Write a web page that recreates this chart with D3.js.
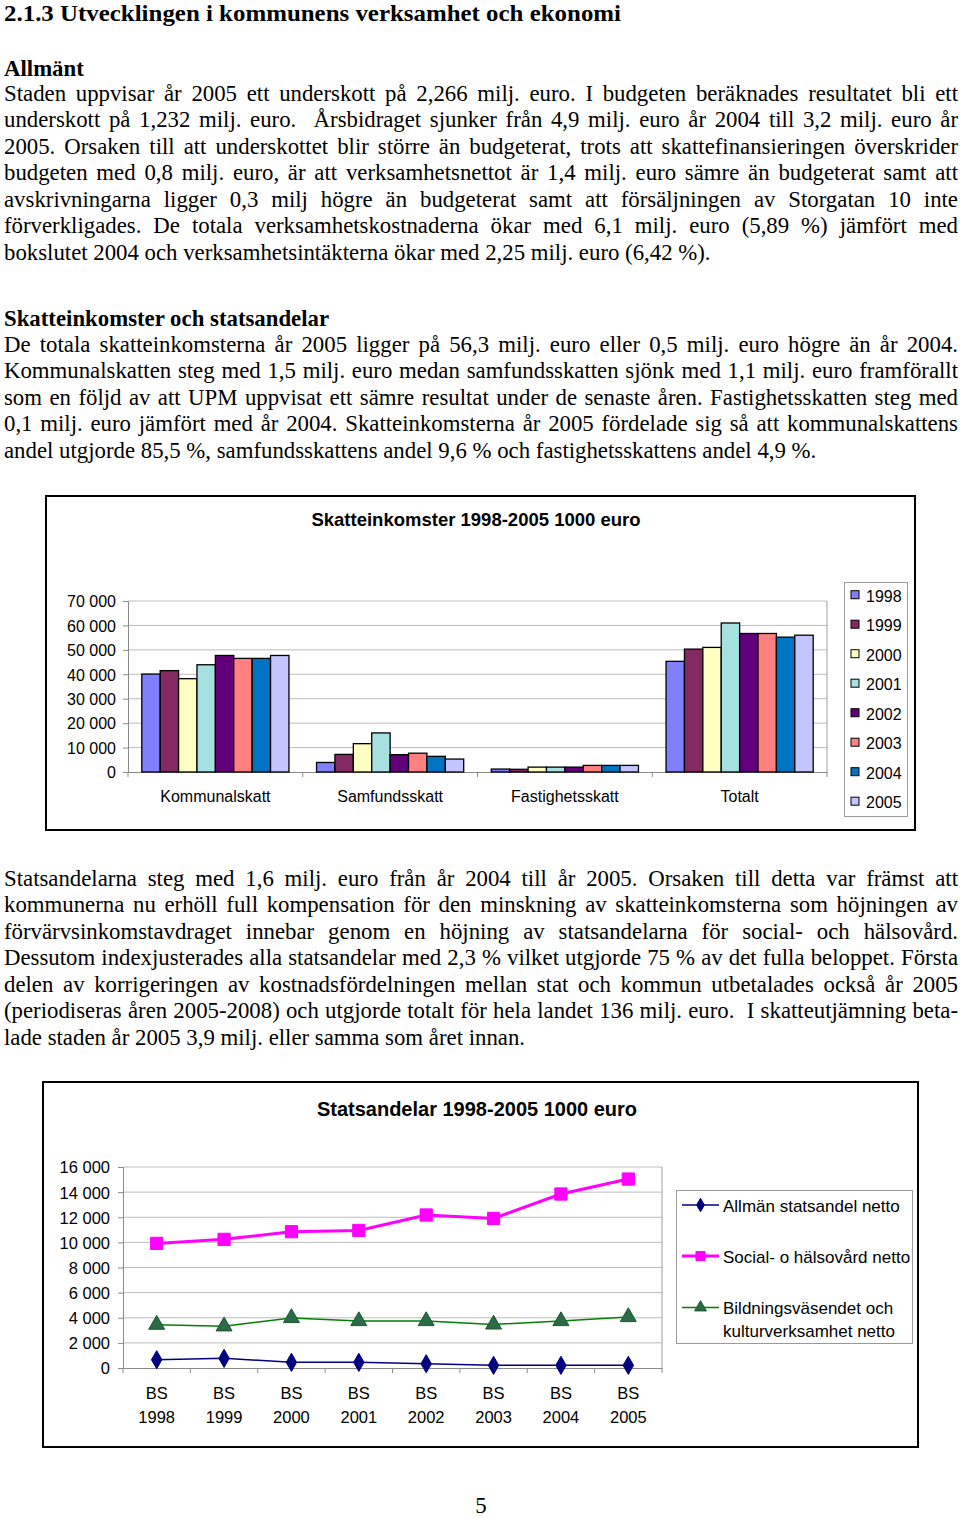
<!DOCTYPE html>
<html>
<head>
<meta charset="utf-8">
<script src="https://cdn.jsdelivr.net/npm/d3@7"></script>
<style>
html,body{margin:0;padding:0;background:#fff;}
svg{display:block;}
</style>
</head>
<body>
<svg id="page" width="960" height="1518"></svg>
<script>
// ---------- DATA ----------
const years = ['1998','1999','2000','2001','2002','2003','2004','2005'];
const taxCategories = ['Kommunalskatt','Samfundsskatt','Fastighetsskatt','Totalt'];
const kommunalskatt   = [40100,41500,38200,43900,47700,46500,46500,47700];
const samfundsskatt   = [3900,7200,11600,16000,7100,7700,6400,5300];
const fastighetsskatt = [1200,1100,2000,2000,2000,2700,2700,2700];
const totalt          = [45300,50300,51000,61000,56700,56700,55200,56000];
const taxTicks = [0,10000,20000,30000,40000,50000,60000,70000];
const taxTitle = 'Skatteinkomster 1998-2005 1000 euro';

const bsCategories = ['1998','1999','2000','2001','2002','2003','2004','2005'];
const seriesNames = ['Allmän statsandel netto','Social- o hälsovård netto','Bildningsväsendet och|kulturverksamhet netto'];
const allmanNetto   = [660,770,450,450,340,210,210,210];
const socialNetto   = [9920,10240,10850,10950,12180,11910,13850,15040];
const bildningNetto = [3450,3320,3980,3740,3740,3470,3740,4060];
const stateTicks = [0,2000,4000,6000,8000,10000,12000,14000,16000];
const stateTitle = 'Statsandelar 1998-2005 1000 euro';

const heading = '2.1.3 Utvecklingen i kommunens verksamhet och ekonomi';
const sub1 = 'Allmänt';
const para1 = [
 'Staden uppvisar år 2005 ett underskott på 2,266 milj. euro. I budgeten beräknades resultatet bli ett',
 'underskott på 1,232 milj. euro.  Årsbidraget sjunker från 4,9 milj. euro år 2004 till 3,2 milj. euro år',
 '2005. Orsaken till att underskottet blir större än budgeterat, trots att skattefinansieringen överskrider',
 'budgeten med 0,8 milj. euro, är att verksamhetsnettot är 1,4 milj. euro sämre än budgeterat samt att',
 'avskrivningarna ligger 0,3 milj högre än budgeterat samt att försäljningen av Storgatan 10 inte',
 'förverkligades. De totala verksamhetskostnaderna ökar med 6,1 milj. euro (5,89 %) jämfört med',
 'bokslutet 2004 och verksamhetsintäkterna ökar med 2,25 milj. euro (6,42 %).'
];
const sub2 = 'Skatteinkomster och statsandelar';
const para2 = [
 'De totala skatteinkomsterna år 2005 ligger på 56,3 milj. euro eller 0,5 milj. euro högre än år 2004.',
 'Kommunalskatten steg med 1,5 milj. euro medan samfundsskatten sjönk med 1,1 milj. euro framförallt',
 'som en följd av att UPM uppvisat ett sämre resultat under de senaste åren. Fastighetsskatten steg med',
 '0,1 milj. euro jämfört med år 2004. Skatteinkomsterna år 2005 fördelade sig så att kommunalskattens',
 'andel utgjorde 85,5 %, samfundsskattens andel 9,6 % och fastighetsskattens andel 4,9 %.'
];
const para3 = [
 'Statsandelarna steg med 1,6 milj. euro från år 2004 till år 2005. Orsaken till detta var främst att',
 'kommunerna nu erhöll full kompensation för den minskning av skatteinkomsterna som höjningen av',
 'förvärvsinkomstavdraget innebar genom en höjning av statsandelarna för social- och hälsovård.',
 'Dessutom indexjusterades alla statsandelar med 2,3 % vilket utgjorde 75 % av det fulla beloppet. Första',
 'delen av korrigeringen av kostnadsfördelningen mellan stat och kommun utbetalades också år 2005',
 '(periodiseras åren 2005-2008) och utgjorde totalt för hela landet 136 milj. euro.  I skatteutjämning beta-',
 'lade staden år 2005 3,9 milj. eller samma som året innan.'
];
const pageNumber = '5';

// ---------- SETUP ----------
const svg = d3.select('#page');
const serif = '"Liberation Serif","Times New Roman",serif';
const sans = '"Liberation Sans",Arial,sans-serif';
const loc = d3.formatLocale({decimal:',', thousands:' ', grouping:[3], currency:['','']});
const fmt = loc.format(',');

// ---------- BODY TEXT ----------
const FS = 22.8, LH = 26.5, LEFT = 4, WIDTH = 954;
function textLine(str, x, y, opts = {}) {
  const t = svg.append('text')
    .attr('x', x).attr('y', y)
    .attr('font-family', serif)
    .attr('font-size', opts.size || FS)
    .attr('font-weight', opts.bold ? 'bold' : 'normal')
    .attr('fill', '#000')
    .attr('text-anchor', opts.anchor || 'start')
    .style('white-space', 'pre')
    .text(str);
  if (opts.justify) {
    const nat = t.node().getComputedTextLength();
    const spaces = (str.match(/ /g) || []).length;
    if (spaces > 0) t.style('word-spacing', ((WIDTH - nat) / spaces) + 'px');
  }
  if (opts.fitWidth) {
    t.attr('textLength', opts.fitWidth).attr('lengthAdjust', 'spacingAndGlyphs');
  }
  return t;
}
function paragraph(lines, y0) {
  lines.forEach((l, i) => textLine(l, LEFT, y0 + i * LH, {justify: i < lines.length - 1}));
}
textLine(heading, LEFT, 20.5, {bold: true, size: 22.8, fitWidth: 617});
textLine(sub1, LEFT, 75.5, {bold: true});
paragraph(para1, 100.5);
textLine(sub2, LEFT, 325.5, {bold: true});
paragraph(para2, 351.5);
paragraph(para3, 885.5);
textLine(pageNumber, 481, 1512.5, {anchor: 'middle'});

// ---------- CHART 1: grouped bars ----------
(function(){
  const colors = ['#8080ff','#842a62','#ffffc4','#a6e0e0','#62007c','#ff8080','#0074c2','#c4c4ff'];
  const seriesByCat = [kommunalskatt, samfundsskatt, fastighetsskatt, totalt];
  const g = svg.append('g');
  g.append('rect').attr('x', 46).attr('y', 496).attr('width', 869).attr('height', 334)
    .attr('fill', '#fff').attr('stroke', '#000').attr('stroke-width', 2);
  g.append('text').attr('x', 476).attr('y', 525.5).attr('text-anchor', 'middle')
    .attr('font-family', sans).attr('font-weight', 'bold').attr('font-size', 18.5).text(taxTitle);

  const x0 = d3.scaleBand().domain(taxCategories).range([128, 827]);
  const y = d3.scaleLinear().domain([0, 70000]).range([772, 601]);
  const bw = x0.bandwidth() / 9.5;
  const x1 = d3.scaleBand().domain(years)
    .range([(x0.bandwidth() - 8 * bw) / 2, (x0.bandwidth() + 8 * bw) / 2]);

  // gridlines
  g.append('g').selectAll('line').data(taxTicks.filter(d => d > 0)).join('line')
    .attr('x1', 128).attr('x2', 827).attr('y1', d => y(d)).attr('y2', d => y(d))
    .attr('stroke', '#bdbdbd').attr('stroke-width', 1);
  // right border
  g.append('line').attr('x1', 827).attr('x2', 827).attr('y1', y(70000)).attr('y2', y(0))
    .attr('stroke', '#a0a0a0');

  // y axis
  const yAxis = d3.axisLeft(y).tickValues(taxTicks).tickFormat(fmt).tickSize(5).tickPadding(7);
  const ya = g.append('g').attr('transform', 'translate(128,0)').call(yAxis);
  ya.select('.domain').attr('stroke', '#8a8a8a');
  ya.selectAll('.tick line').attr('stroke', '#8a8a8a');
  ya.selectAll('text').attr('font-family', sans).attr('font-size', 16).attr('fill', '#000').attr('dy', '0.36em');

  // x axis
  const xa = g.append('g').attr('transform', `translate(0,${y(0)})`)
    .call(d3.axisBottom(x0).tickSize(0).tickPadding(0));
  xa.select('.domain').attr('stroke', '#8a8a8a');
  xa.selectAll('.tick text').attr('font-family', sans).attr('font-size', 16).attr('fill', '#000')
    .attr('y', 30).attr('dy', 0);
  const bounds = taxCategories.map(c => x0(c)).concat([x0.range()[1]]);
  g.append('g').selectAll('line').data(bounds).join('line')
    .attr('x1', d => d).attr('x2', d => d).attr('y1', y(0)).attr('y2', y(0) + 5)
    .attr('stroke', '#8a8a8a');

  // bars
  const bars = [];
  taxCategories.forEach((c, ci) => years.forEach((yr, yi) => bars.push({c, yr, yi, v: seriesByCat[ci][yi]})));
  g.append('g').selectAll('rect').data(bars).join('rect')
    .attr('x', d => x0(d.c) + x1(d.yr))
    .attr('width', x1.bandwidth())
    .attr('y', d => y(d.v))
    .attr('height', d => y(0) - y(d.v))
    .attr('fill', d => colors[d.yi])
    .attr('stroke', '#000').attr('stroke-width', 1.3);

  // legend
  const lg = g.append('g');
  lg.append('rect').attr('x', 844.5).attr('y', 582.5).attr('width', 63).attr('height', 234)
    .attr('fill', '#fff').attr('stroke', '#9a9a9a');
  const items = lg.selectAll('g.it').data(years).join('g').attr('class', 'it')
    .attr('transform', (d, i) => `translate(0,${601.7 + i * 29.5})`);
  items.append('rect').attr('x', 851).attr('y', -11).attr('width', 8).attr('height', 8)
    .attr('fill', (d, i) => colors[i]).attr('stroke', '#000').attr('stroke-width', 1);
  items.append('text').attr('x', 866).attr('y', 0).attr('font-family', sans).attr('font-size', 16).text(d => d);
})();

// ---------- CHART 2: lines ----------
(function(){
  const g = svg.append('g');
  g.append('rect').attr('x', 43).attr('y', 1082).attr('width', 875).attr('height', 365)
    .attr('fill', '#fff').attr('stroke', '#000').attr('stroke-width', 2);
  g.append('text').attr('x', 477).attr('y', 1116).attr('text-anchor', 'middle')
    .attr('font-family', sans).attr('font-weight', 'bold').attr('font-size', 20).text(stateTitle);

  const x = d3.scalePoint().domain(bsCategories).range([123, 662]).padding(0.5);
  const y = d3.scaleLinear().domain([0, 16000]).range([1368, 1167]);
  const step = x.step();

  g.append('g').selectAll('line').data(stateTicks.filter(d => d > 0)).join('line')
    .attr('x1', 123).attr('x2', 662).attr('y1', d => y(d)).attr('y2', d => y(d))
    .attr('stroke', '#bdbdbd');
  g.append('line').attr('x1', 662).attr('x2', 662).attr('y1', y(16000)).attr('y2', y(0)).attr('stroke', '#a0a0a0');

  const ya = g.append('g').attr('transform', 'translate(123,0)')
    .call(d3.axisLeft(y).tickValues(stateTicks).tickFormat(fmt).tickSize(5).tickPadding(8));
  ya.select('.domain').attr('stroke', '#8a8a8a');
  ya.selectAll('.tick line').attr('stroke', '#8a8a8a');
  ya.selectAll('text').attr('font-family', sans).attr('font-size', 16.5).attr('fill', '#000').attr('dy', '0.36em');

  const xa = g.append('g').attr('transform', `translate(0,${y(0)})`)
    .call(d3.axisBottom(x).tickSize(0).tickFormat(() => ''));
  xa.select('.domain').attr('stroke', '#8a8a8a');
  xa.selectAll('.tick text').remove();
  const ticksX = d3.range(bsCategories.length + 1).map(i => 123 + i * step);
  g.append('g').selectAll('line').data(ticksX).join('line')
    .attr('x1', d => d).attr('x2', d => d).attr('y1', y(0)).attr('y2', y(0) + 5).attr('stroke', '#8a8a8a');
  const lab = g.append('g').selectAll('text').data(bsCategories).join('text')
    .attr('x', d => x(d)).attr('text-anchor', 'middle')
    .attr('font-family', sans).attr('font-size', 16.5).attr('fill', '#000');
  lab.append('tspan').attr('x', d => x(d)).attr('y', 1399).text('BS');
  lab.append('tspan').attr('x', d => x(d)).attr('y', 1423).text(d => d);

  const line = d3.line().x((d, i) => x(bsCategories[i])).y(d => y(d));
  const series = [
    {vals: allmanNetto, color: '#000080', w: 1.5, shape: d3.symbolDiamond, size: 95, fill: '#000080', stroke: '#000080'},
    {vals: socialNetto, color: '#ff00ff', w: 3, shape: d3.symbolSquare, size: 150, fill: '#ff00ff', stroke: '#ff00ff'},
    {vals: bildningNetto, color: '#008000', w: 1.5, shape: d3.symbolTriangle, size: 110, fill: '#2b6b45', stroke: '#1d5533'}
  ];
  series.forEach(s => {
    g.append('path').datum(s.vals).attr('d', line).attr('fill', 'none')
      .attr('stroke', s.color).attr('stroke-width', s.w);
    g.append('g').selectAll('path').data(s.vals).join('path')
      .attr('transform', (d, i) => `translate(${x(bsCategories[i])},${y(d)})`)
      .attr('d', d3.symbol().type(s.shape).size(s.size))
      .attr('fill', s.fill).attr('stroke', s.stroke).attr('stroke-width', 1);
  });

  // legend
  const lg = g.append('g');
  lg.append('rect').attr('x', 676.5).attr('y', 1190.5).attr('width', 236).attr('height', 153)
    .attr('fill', '#fff').attr('stroke', '#9a9a9a');
  const ly = [1205, 1256, 1307.5];
  series.forEach((s, i) => {
    lg.append('line').attr('x1', 682).attr('x2', 719).attr('y1', ly[i]).attr('y2', ly[i])
      .attr('stroke', s.color).attr('stroke-width', s.w);
    lg.append('path').attr('transform', `translate(700.5,${ly[i]})`)
      .attr('d', d3.symbol().type(s.shape).size(s.size * 0.55))
      .attr('fill', s.fill).attr('stroke', s.stroke);
    const parts = seriesNames[i].split('|');
    const t = lg.append('text').attr('font-family', sans).attr('font-size', 17).attr('fill', '#000');
    parts.forEach((p, k) => t.append('tspan').attr('x', 723).attr('y', ly[i] + 6.5 + k * 22.5).text(p));
  });
})();
</script>
</body>
</html>
